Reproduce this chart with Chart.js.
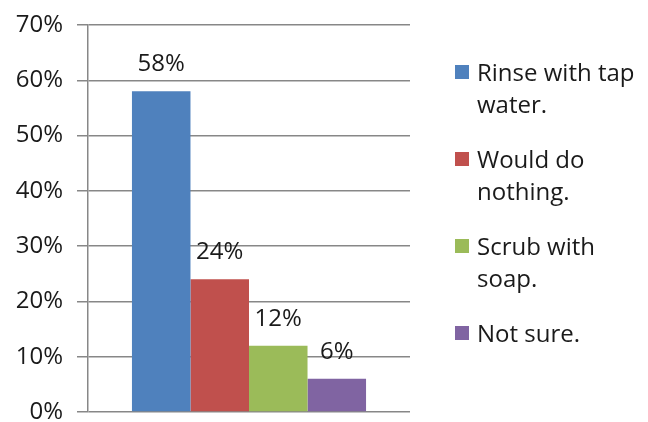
<!DOCTYPE html>
<html>
<head>
<meta charset="utf-8">
<script src="https://cdn.jsdelivr.net/npm/chart.js@4/dist/chart.umd.min.js"></script>
<style>
  html, body { margin: 0; padding: 0; background: #fff; }
  #wrap { position: relative; width: 648px; height: 422px; }
  #legend { position: absolute; left: 455px; top: 56px; font-family: "Open Sans", sans-serif; font-size: 24px; color: #1a1a1a; }
  .item { position: relative; padding-left: 22px; line-height: 32px; margin-bottom: 23px; }
  .box { position: absolute; left: 0; top: 9px; width: 14px; height: 14px; }
</style>
</head>
<body>
<div id="wrap">
  <canvas id="myChart" width="648" height="422"></canvas>
  <div id="legend"></div>
</div>
<script>
var labels = ["Rinse with tap water.", "Would do nothing.", "Scrub with soap.", "Not sure."];
var legendLines = [["Rinse with tap", "water."], ["Would do", "nothing."], ["Scrub with", "soap."], ["Not sure."]];
var values = [58, 24, 12, 6];
var colors = ["#4F81BD", "#C0504D", "#9BBB59", "#8064A2"];
var yTicks = [0, 10, 20, 30, 40, 50, 60, 70];

var font = { family: "Open Sans", size: 24 };

// labels above each bar
var barLabels = {
    id: 'barLabels',
    afterDatasetsDraw: function (chart) {
        var ctx = chart.ctx;
        ctx.save();
        ctx.font = "24px 'Open Sans'";
        ctx.fillStyle = "#1a1a1a";
        ctx.textAlign = "center";
        ctx.textBaseline = "middle";
        chart.data.datasets.forEach(function (ds, i) {
            var bar = chart.getDatasetMeta(i).data[0];
            ctx.fillText(ds.data[0] + "%", bar.x, bar.y - 27);
        });
        ctx.restore();
    }
};

var ctx = document.getElementById('myChart').getContext('2d');
var chart = new Chart(ctx, {
    type: 'bar',
    data: {
        labels: [""],
        datasets: labels.map(function (l, i) {
            return {
                label: l,
                data: [values[i]],
                backgroundColor: colors[i],
                borderWidth: 0,
                categoryPercentage: 0.727,
                barPercentage: 1
            };
        })
    },
    options: {
        responsive: false,
        animation: false,
        layout: { padding: { left: 0, right: 238, top: 25, bottom: 10 } },
        plugins: { legend: { display: false }, tooltip: { enabled: false } },
        scales: {
            x: { display: false },
            y: {
                min: 0,
                max: 70,
                afterFit: function (scale) {
                    scale.width = 88;
                    scale.paddingTop = 0;
                    scale.paddingBottom = 0;
                },
                afterBuildTicks: function (scale) {
                    scale.ticks = yTicks.map(function (v) { return { value: v }; });
                },
                ticks: {
                    font: font,
                    color: "#1a1a1a",
                    padding: 14,
                    callback: function (v) { return v + "%"; }
                },
                grid: { color: "#878787", lineWidth: 1.5, tickLength: 11 },
                border: { display: true, color: "#878787", width: 1.5 }
            }
        }
    },
    plugins: [barLabels]
});

// html legend with wrapped lines
var leg = document.getElementById('legend');
legendLines.forEach(function (lines, i) {
    var item = document.createElement('div');
    item.className = 'item';
    var box = document.createElement('span');
    box.className = 'box';
    box.style.background = colors[i];
    item.appendChild(box);
    item.appendChild(document.createTextNode(lines[0]));
    for (var k = 1; k < lines.length; k++) {
        item.appendChild(document.createElement('br'));
        item.appendChild(document.createTextNode(lines[k]));
    }
    leg.appendChild(item);
});
</script>
</body>
</html>
